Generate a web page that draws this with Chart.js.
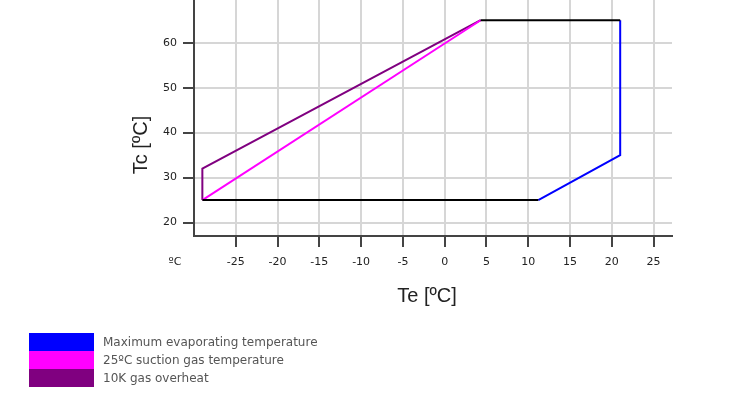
<!DOCTYPE html>
<html>
<head>
<meta charset="utf-8">
<script src="https://cdn.jsdelivr.net/npm/chart.js@4"></script>
<style>
  html, body { margin: 0; padding: 0; background: #fff; }
  #wrap { position: relative; width: 750px; height: 398px; }
  #legend { position: absolute; left: 29px; top: 333px; font: 12px "DejaVu Sans", sans-serif; color: #555; }
  #legend div { height: 18px; line-height: 18px; white-space: nowrap; }
  #legend span { display: inline-block; width: 65px; height: 18px; vertical-align: top; margin-right: 9px; }
</style>
</head>
<body>
<div id="wrap">
  <canvas id="chart"></canvas>
  <div id="legend"></div>
</div>
<script>
// Envelope of the operating map, Te (evaporating) vs Tc (condensing), both in ºC
const xTicks = [-25, -20, -15, -10, -5, 0, 5, 10, 15, 20, 25];
const yTicks = [20, 30, 40, 50, 60];

const topTe = [4.3, 21];
const topTc = [65, 65];

const maxEvapTe = [21, 21, 11.2];
const maxEvapTc = [65, 35, 25];

const bottomTe = [11.2, -29];
const bottomTc = [25, 25];

const suctionTe = [-29, 4.3];
const suctionTc = [25, 65];

const overheatTe = [-29, -29, 4.3];
const overheatTc = [25, 32, 65];

const legendItems = [
  { label: 'Maximum evaporating temperature', color: '#0000ff' },
  { label: '25ºC suction gas temperature', color: '#ff00ff' },
  { label: '10K gas overheat', color: '#800080' }
];

function pts(xs, ys) {
  return xs.map((x, i) => ({ x: x, y: ys[i] }));
}

function line(data, color) {
  return {
    data: data,
    showLine: true,
    borderColor: color,
    backgroundColor: color,
    borderWidth: 2,
    pointRadius: 0,
    fill: false
  };
}

// axis titles and the lone ºC unit under the y axis
const extraText = {
  id: 'extraText',
  afterDraw(chart) {
    const ctx = chart.ctx;
    ctx.save();
    ctx.fillStyle = '#222';
    ctx.textAlign = 'center';
    ctx.textBaseline = 'middle';
    ctx.font = '20px "Liberation Sans", Arial, sans-serif';
    ctx.fillText('Te [ºC]', 427, 296);
    ctx.save();
    ctx.translate(141, 145);
    ctx.rotate(-Math.PI / 2);
    ctx.fillText('Tc [ºC]', 0, 0);
    ctx.restore();
    ctx.fillStyle = '#222';
    ctx.font = '11px "DejaVu Sans", sans-serif';
    ctx.fillText('ºC', 175, 262);
    ctx.restore();
  }
};

const legendEl = document.getElementById('legend');
legendItems.forEach(item => {
  const row = document.createElement('div');
  const box = document.createElement('span');
  box.style.background = item.color;
  row.appendChild(box);
  row.appendChild(document.createTextNode(item.label));
  legendEl.appendChild(row);
});

new Chart(document.getElementById('chart'), {
  type: 'scatter',
  data: {
    datasets: [
      line(pts(topTe, topTc), '#000000'),
      line(pts(bottomTe, bottomTc), '#000000'),
      line(pts(maxEvapTe, maxEvapTc), '#0000ff'),
      line(pts(suctionTe, suctionTc), '#ff00ff'),
      line(pts(overheatTe, overheatTc), '#800080')
    ]
  },
  options: {
    responsive: true,
    maintainAspectRatio: false,
    animation: false,
    layout: { padding: { top: 0, left: 0, right: 78, bottom: 0 } },
    scales: {
      x: {
        type: 'linear',
        min: -30,
        max: 27.2,
        afterBuildTicks: axis => { axis.ticks = xTicks.map(v => ({ value: v })); },
        afterFit: axis => { axis.height = 162; axis.paddingLeft = 0; axis.paddingRight = 0; },
        grid: { color: '#d6d6d6', lineWidth: 2, tickLength: 11, tickColor: '#444', tickWidth: 2 },
        border: { color: '#444', width: 2 },
        ticks: {
          autoSkip: false, maxRotation: 0, padding: 9, color: '#222',
          font: { family: '"DejaVu Sans", sans-serif', size: 11 }
        }
      },
      y: {
        type: 'linear',
        min: 17,
        max: 69.5,
        afterBuildTicks: axis => { axis.ticks = yTicks.map(v => ({ value: v })); },
        afterFit: axis => { axis.width = 194; axis.paddingTop = 0; axis.paddingBottom = 0; },
        grid: { color: '#d6d6d6', lineWidth: 2, tickLength: 11, tickColor: '#444', tickWidth: 2 },
        border: { color: '#444', width: 2 },
        ticks: {
          padding: 6, color: '#222',
          font: { family: '"DejaVu Sans", sans-serif', size: 11 }
        }
      }
    },
    plugins: {
      legend: { display: false },
      tooltip: { enabled: false }
    }
  },
  plugins: [extraText]
});
</script>
</body>
</html>
